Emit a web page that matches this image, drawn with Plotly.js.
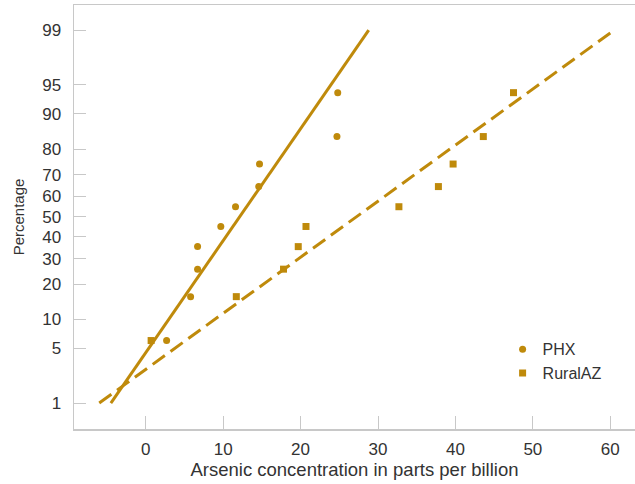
<!DOCTYPE html>
<html>
<head>
<meta charset="utf-8">
<script src="https://cdn.plot.ly/plotly-3.0.1.min.js"></script>
<style>html,body{margin:0;padding:0;background:#fff;}#chart{width:635px;height:484px;}</style>
</head>
<body>
<div id="chart"></div>
<script>
// Plotting positions (percent) shared by both samples
const pct = [6.1, 15.9, 25.6, 35.4, 45.1, 54.9, 64.6, 74.4, 84.1, 93.9];
// Arsenic concentration (ppb)
const phx = [2.7, 5.8, 6.7, 6.7, 9.7, 11.6, 14.6, 14.7, 24.7, 24.8];
const rural = [0.7, 11.7, 17.8, 19.7, 20.7, 32.7, 37.8, 39.7, 43.6, 47.5];
// Fitted lines (endpoints at 1% and 99%)
const fitPct = [1, 99];
const phxFit = [-4.5, 28.8];
const ruralFit = [-6.0, 60.5];
// Probability axis ticks
const yTicks = [1, 5, 10, 20, 30, 40, 50, 60, 70, 80, 90, 95, 99];
const xTicks = [0, 10, 20, 30, 40, 50, 60];

// Inverse standard normal CDF (Acklam) -> probability scale transform
function probit(p) {
  const a = [-3.969683028665376e+01, 2.209460984245205e+02, -2.759285104469687e+02, 1.383577518672690e+02, -3.066479806614716e+01, 2.506628277459239e+00];
  const b = [-5.447609879822406e+01, 1.615858368580409e+02, -1.556989798598866e+02, 6.680131188771972e+01, -1.328068155288572e+01];
  const c = [-7.784894002430293e-03, -3.223964580411365e-01, -2.400758277161838e+00, -2.549732539343734e+00, 4.374664141464968e+00, 2.938163982698783e+00];
  const d = [7.784695709041462e-03, 3.224671290700398e-01, 2.445134137142996e+00, 3.754408661907416e+00];
  const pl = 0.02425, ph = 1 - pl;
  let q, r;
  if (p < pl) { q = Math.sqrt(-2 * Math.log(p)); return (((((c[0]*q+c[1])*q+c[2])*q+c[3])*q+c[4])*q+c[5]) / ((((d[0]*q+d[1])*q+d[2])*q+d[3])*q+1); }
  if (p <= ph) { q = p - 0.5; r = q*q; return (((((a[0]*r+a[1])*r+a[2])*r+a[3])*r+a[4])*r+a[5])*q / (((((b[0]*r+b[1])*r+b[2])*r+b[3])*r+b[4])*r+1); }
  q = Math.sqrt(-2 * Math.log(1 - p)); return -(((((c[0]*q+c[1])*q+c[2])*q+c[3])*q+c[4])*q+c[5]) / ((((d[0]*q+d[1])*q+d[2])*q+d[3])*q+1);
}
const z = arr => arr.map(v => probit(v / 100));

const col = '#BF8A0B';
const axisCol = '#c8c8c8';
const font = 'Liberation Sans, Arial, sans-serif';

const traces = [
  {x: phxFit, y: z(fitPct), mode: 'lines', line: {color: col, width: 3}, showlegend: false, hoverinfo: 'skip'},
  {x: ruralFit, y: z(fitPct), mode: 'lines', line: {color: col, width: 3, dash: '15px,7px'}, showlegend: false, hoverinfo: 'skip'},
  {x: phx, y: z(pct), mode: 'markers', name: 'PHX', marker: {symbol: 'circle', size: 7, color: col}},
  {x: rural, y: z(pct), mode: 'markers', name: 'RuralAZ', marker: {symbol: 'square', size: 7, color: col}}
];

const layout = {
  width: 635, height: 484,
  margin: {l: 74, r: 0, t: 5, b: 55},
  paper_bgcolor: '#fff', plot_bgcolor: '#fff',
  font: {family: font, size: 17, color: '#333'},
  showlegend: true,
  legend: {x: 0.764, y: 0.228, xanchor: 'left', yanchor: 'top', bgcolor: 'rgba(0,0,0,0)', font: {size: 16, color: '#333'}},
  xaxis: {
    range: [-9.26, 63.19], tickvals: xTicks, ticktext: xTicks.map(String),
    ticks: 'inside', ticklen: 13, tickcolor: axisCol, tickwidth: 1,
    showline: true, linecolor: axisCol, linewidth: 1.5, mirror: true,
    showgrid: false, zeroline: false, ticklabelstandoff: 4,
    tickfont: {size: 17, color: '#333'},
    title: {text: 'Arsenic concentration in parts per billion', font: {size: 18.5, color: '#333'}, standoff: 4}
  },
  yaxis: {
    range: [-2.65, 2.64], tickvals: z(yTicks), ticktext: yTicks.map(String),
    ticks: 'inside', ticklen: 12, tickcolor: axisCol, tickwidth: 1,
    showline: true, linecolor: axisCol, linewidth: 1.5, mirror: false,
    showgrid: false, zeroline: false, ticklabelstandoff: 8,
    tickfont: {size: 17, color: '#333'},
    title: {text: 'Percentage', font: {size: 15, color: '#333'}, standoff: 14}
  }
};

Plotly.newPlot('chart', traces, layout, {displayModeBar: false, staticPlot: true});
</script>
</body>
</html>
